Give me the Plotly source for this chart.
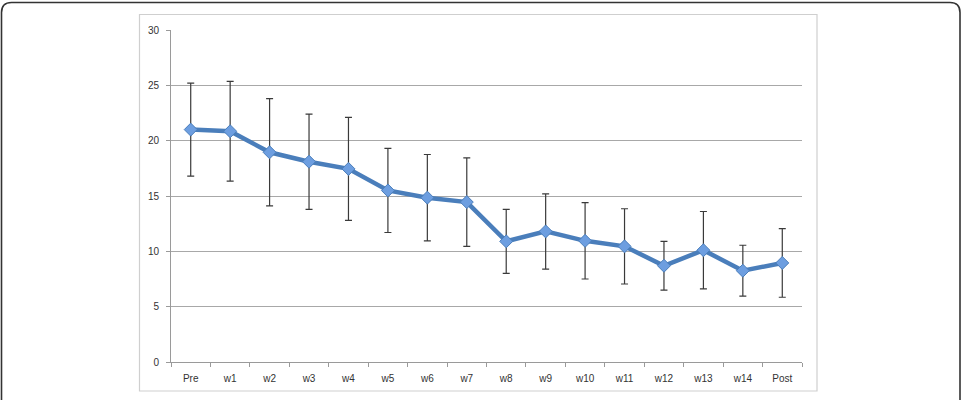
import plotly.graph_objects as go

categories = ["Pre", "w1", "w2", "w3", "w4", "w5", "w6", "w7", "w8", "w9", "w10", "w11", "w12", "w13", "w14", "Post"]
means = [21.0, 20.85, 18.95, 18.1, 17.45, 15.5, 14.85, 14.45, 10.9, 11.8, 10.95, 10.45, 8.7, 10.1, 8.25, 8.95]
sd = [4.2, 4.5, 4.85, 4.3, 4.65, 3.8, 3.9, 4.0, 2.9, 3.4, 3.45, 3.4, 2.2, 3.5, 2.3, 3.1]
y_ticks = [0, 5, 10, 15, 20, 25, 30]

W, H = 969, 400
ML, MR, MT, MB = 171, 167, 30, 38
PW, PH = W - ML - MR, H - MT - MB


def px(x):
    return (x - ML) / PW


def py(y):
    return (H - MB - y) / PH


fig = go.Figure()
fig.add_trace(go.Scatter(
    x=categories, y=means,
    mode="lines+markers",
    line=dict(color="#4a7ebb", width=4.5),
    marker=dict(symbol="diamond", size=10, color="#6d9ee0",
                line=dict(color="#4a7ebb", width=1)),
    error_y=dict(type="data", array=sd, visible=True,
                 color="#3a3a3a", thickness=1.2, width=3.5),
    showlegend=False,
))

# inner chart box (light gray) and outer rounded frame
x0, x1, y0, y1 = px(139.5), px(817), py(14.5), py(391)
r = 10
L, R, T, B = 1.5, 960, 2.5, 420
rx, ry = r / PW, r / PH
path = (f"M {px(L)},{py(B)} L {px(L)},{py(T) - ry} "
        f"Q {px(L)},{py(T)} {px(L) + rx},{py(T)} "
        f"L {px(R) - rx},{py(T)} Q {px(R)},{py(T)} {px(R)},{py(T) - ry} "
        f"L {px(R)},{py(B)}")

fig.update_layout(
    width=W, height=H,
    margin=dict(l=ML, r=MR, t=MT, b=MB, pad=0),
    paper_bgcolor="white", plot_bgcolor="white",
    font=dict(family="Liberation Sans, Arial, sans-serif", size=10, color="#333333"),
    shapes=[
        dict(type="rect", xref="paper", yref="paper", x0=x0, x1=x1, y0=y0, y1=y1,
             line=dict(color="#cfcfcf", width=1.2), layer="below"),
        dict(type="path", xref="paper", yref="paper", path=path,
             line=dict(color="#333333", width=1.6)),
    ],
    xaxis=dict(
        type="category", categoryorder="array", categoryarray=categories,
        range=[-0.5, len(categories) - 0.5],
        showgrid=False, showline=True, linecolor="#9a9a9a", linewidth=1,
        ticks="outside", tickson="boundaries", ticklen=4, tickcolor="#9a9a9a",
        ticklabelstandoff=7,
        tickfont=dict(size=10, color="#333333"), zeroline=False,
    ),
    yaxis=dict(
        range=[0, 30], tickvals=y_ticks, showgrid=True, gridcolor="#a8a8a8", gridwidth=1,
        showline=True, linecolor="#9a9a9a", linewidth=1,
        ticks="outside", ticklen=4, tickcolor="#9a9a9a",
        ticklabelstandoff=5,
        tickfont=dict(size=10, color="#333333"), zeroline=False,
    ),
)

fig.write_html("out.html")
